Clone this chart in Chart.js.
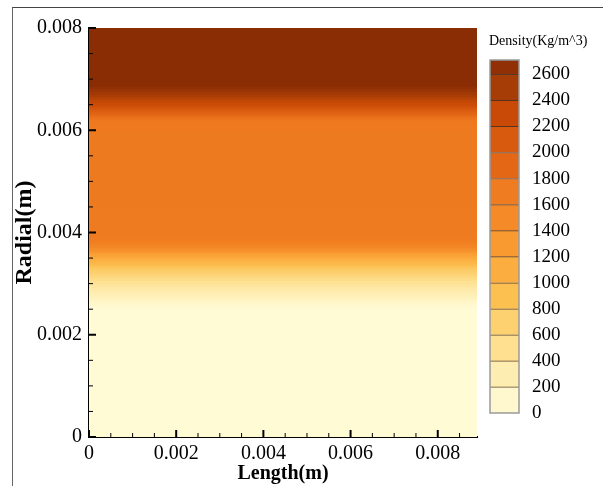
<!DOCTYPE html>
<html>
<head>
<meta charset="utf-8">
<script src="https://cdn.jsdelivr.net/npm/chart.js@4.4.1/dist/chart.umd.min.js"></script>
<style>
body{margin:0;background:#fff;}
#wrap{position:relative;width:603px;height:486px;overflow:hidden;}
#frame{position:absolute;left:12px;top:7px;width:600px;height:490px;border-left:1px solid #666;border-top:1px solid #444;}
#main{position:absolute;left:0;top:0;}
#bar{position:absolute;left:470px;top:0;}
#barTitle{position:absolute;left:489px;top:33px;font:14px "Liberation Serif",serif;color:#000;white-space:nowrap;}
</style>
</head>
<body>
<div id="wrap">
<div id="frame"></div>
<canvas id="main" width="480" height="486"></canvas>
<canvas id="bar" width="133" height="486"></canvas>
<div id="barTitle">Density(Kg/m^3)</div>
</div>
<script>
// radial position (m) and density (kg/m^3)
const radial = [0, 0.0025, 0.00255, 0.0026, 0.00265, 0.0027, 0.00275, 0.0028, 0.00285, 0.0029, 0.00295, 0.0030, 0.00305, 0.0031, 0.00315, 0.0032, 0.00325, 0.0033, 0.00335, 0.0034, 0.00345, 0.0035, 0.00355, 0.0036, 0.00365, 0.0037, 0.00375, 0.0038, 0.00385, 0.0039, 0.0045, 0.0055, 0.0060, 0.00615, 0.0062, 0.00625, 0.0063, 0.00635, 0.0064, 0.00645, 0.0065, 0.00655, 0.0066, 0.00665, 0.0067, 0.00675, 0.0068, 0.00685, 0.0069, 0.0080]
const density = [20, 30, 60, 100, 140, 180, 220, 260, 300, 340, 385, 430, 485, 540, 600, 660, 720, 780, 860, 950, 1020, 1100, 1170, 1250, 1370, 1480, 1560, 1620, 1670, 1700, 1710, 1720, 1720, 1725, 1730, 1780, 1850, 1950, 2050, 2150, 2250, 2300, 2350, 2420, 2480, 2540, 2600, 2650, 2700, 2700]

const lengthMax = 0.0089
const radialMax = 0.008
const xTicks = [0, 0.002, 0.004, 0.006, 0.008]
const yTicks = [0, 0.002, 0.004, 0.006, 0.008]
const levels = [0, 200, 400, 600, 800, 1000, 1200, 1400, 1600, 1800, 2000, 2200, 2400, 2600]
const levelMax = 2710

// colour map
const mapValues = [0, 100, 300, 500, 700, 900, 1100, 1300, 1500, 1700, 1900, 2100, 2300, 2500, 2700]
const mapColors = ["#fffdd8","#fff8cf","#feedb0","#fee090","#fdd070","#fcc050","#fbad40","#f89a30","#f48a28","#ef7c20","#e46716","#d85a0e","#c84a06","#a63c06","#8b2d04"]

function hex(c){ return [parseInt(c.slice(1,3),16),parseInt(c.slice(3,5),16),parseInt(c.slice(5,7),16)] }

function colorFor(v){
if(v <= mapValues[0]) return mapColors[0]
for(let i=1;i<mapValues.length;i++){
if(v <= mapValues[i]){
const t = (v-mapValues[i-1])/(mapValues[i]-mapValues[i-1])
const a = hex(mapColors[i-1]), b = hex(mapColors[i])
return "rgb("+a.map((c,k)=>Math.round(c+(b[k]-c)*t)).join(",")+")"
}
}
return mapColors[mapColors.length-1]
}

const serif = "'Liberation Serif', 'Times New Roman', serif"

// one filled layer per radial sample, smallest radius on top
const layers = radial.map((r,i)=>({
data:[{x:0,y:r},{x:lengthMax,y:r}],
fill:"start",
backgroundColor:colorFor(density[i]),
borderWidth:0,
pointRadius:0
}))

const tickMarks = {
id:"tickMarks",
afterDraw(chart){
const c = chart.ctx, a = chart.chartArea
const xs = chart.scales.x, ys = chart.scales.y
c.save()
c.strokeStyle = "#000"
for(let v=0; v<=lengthMax+1e-9; v+=0.0005){
const major = Math.abs(v/0.002-Math.round(v/0.002))<1e-6
const px = xs.getPixelForValue(v)
c.lineWidth = major ? 2 : 1
c.beginPath(); c.moveTo(px,a.bottom); c.lineTo(px,a.bottom-(major?7:4)); c.stroke()
}
for(let v=0; v<=radialMax+1e-9; v+=0.0005){
const major = Math.abs(v/0.002-Math.round(v/0.002))<1e-6
const py = ys.getPixelForValue(v)
c.lineWidth = major ? 2 : 1
c.beginPath(); c.moveTo(a.left,py); c.lineTo(a.left+(major?7:4),py); c.stroke()
}
c.restore()
}
}

new Chart(document.getElementById("main"),{
type:"line",
data:{datasets:layers},
plugins:[tickMarks],
options:{
responsive:false,
animation:false,
layout:{padding:{top:28,right:3,left:0,bottom:0}},
plugins:{legend:{display:false},tooltip:{enabled:false}},
scales:{
x:{
type:"linear",min:0,max:lengthMax,z:1,
afterBuildTicks:s=>{s.ticks = xTicks.map(v=>({value:v}))},
afterFit:s=>{s.height = 49},
grid:{display:false,drawTicks:false},
border:{display:true,color:"#000",width:2},
ticks:{font:{family:serif,size:20},color:"#000",padding:5,maxRotation:0,autoSkip:false,
callback:v=>v===0?"0":v.toFixed(3)},
title:{display:true,text:"Length(m)",color:"#000",font:{family:serif,size:20,weight:"bold"},padding:{top:0,bottom:0}}
},
y:{
type:"linear",min:0,max:radialMax,z:1,
afterBuildTicks:s=>{s.ticks = yTicks.map(v=>({value:v}))},
afterFit:s=>{s.width = 89},
grid:{display:false,drawTicks:false},
border:{display:true,color:"#000",width:2},
ticks:{font:{family:serif,size:20},color:"#000",padding:7,autoSkip:false,
callback:v=>v===0?"0":v.toFixed(3)},
title:{display:true,text:"Radial(m)",color:"#000",font:{family:serif,size:24,weight:"bold"},padding:{top:10,bottom:0}}
}
}
}
})

// colour bar
const outline = {
id:"outline",
afterDraw(chart){
const c = chart.ctx, a = chart.chartArea
c.save()
c.strokeStyle = "#9a9a9a"
c.lineWidth = 1.5
c.strokeRect(a.left,a.top,a.right-a.left,a.bottom-a.top)
c.restore()
}
}

const bands = levels.map((lo,i)=>{
const hi = i<levels.length-1 ? levels[i+1] : levelMax
return {
data:[[lo,hi]],
backgroundColor:colorFor((lo+hi)/2),
borderColor:"rgba(50,20,0,0.8)",
borderWidth:{top:1,bottom:0,left:0,right:0},
borderSkipped:false,
grouped:false,
barPercentage:1,
categoryPercentage:1
}
})

new Chart(document.getElementById("bar"),{
type:"bar",
data:{labels:["Density"],datasets:bands},
plugins:[outline],
options:{
responsive:false,
animation:false,
layout:{padding:{top:60,bottom:73,left:20,right:0}},
plugins:{legend:{display:false},tooltip:{enabled:false}},
scales:{
x:{display:false},
y:{
position:"right",min:0,max:levelMax,
afterBuildTicks:s=>{s.ticks = levels.map(v=>({value:v}))},
afterFit:s=>{s.width = 84},
grid:{display:false,drawTicks:false},
border:{display:false},
ticks:{font:{family:serif,size:19},color:"#000",padding:13,callback:v=>String(v)}
}
}
}
})
</script>
</body>
</html>
